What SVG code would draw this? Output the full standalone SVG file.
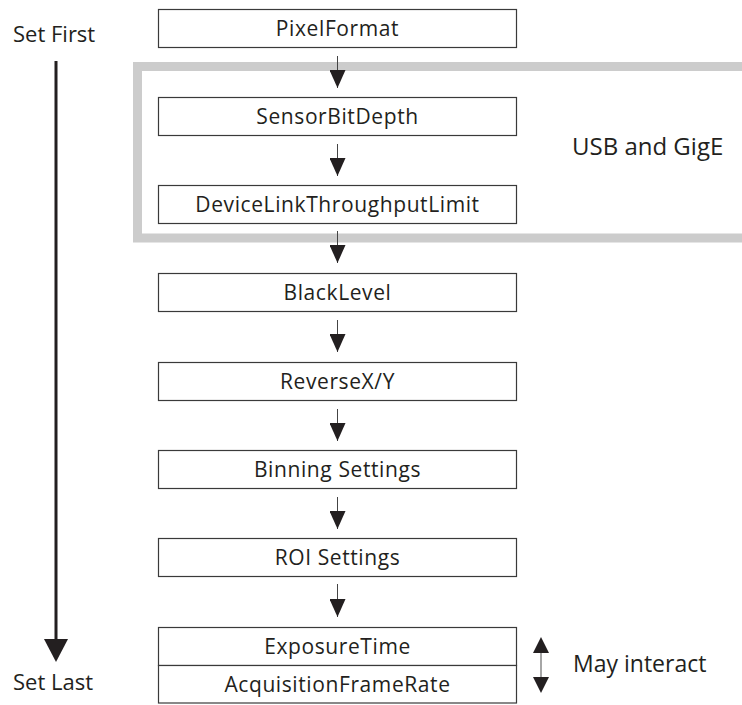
<svg xmlns="http://www.w3.org/2000/svg" width="742" height="705" viewBox="0 0 742 705">
<defs>
<style>
.box{fill:#fff;stroke:#3a3a3a;stroke-width:1.2}
.t{font-family:"Open Sans","Noto Sans",sans-serif;font-size:21px;fill:#231f20;text-anchor:middle;letter-spacing:0.6px}
.lbl{font-family:"Open Sans","Noto Sans",sans-serif;fill:#231f20}
.con{stroke:#444;stroke-width:1;fill:none}
.head{fill:#231f20}
</style>
<marker id="ah" markerUnits="userSpaceOnUse" viewBox="0 0 18 16" markerWidth="18" markerHeight="16" refX="18" refY="8" orient="auto">
<path d="M0,0 L18,8 L0,16 z" fill="#231f20"/>
</marker>
</defs>
<rect width="742" height="705" fill="#fff"/>
<g id="usb-gige-frame">
<path d="M742,66.5 H137.5 V238 H742" fill="none" stroke="#cccccc" stroke-width="9"/>
<text class="lbl" x="572" y="155" font-size="24">USB and GigE</text>
</g>
<g id="connectors">
<line class="con" x1="337.5" y1="56" x2="337.5" y2="88" marker-end="url(#ah)"/>
<line class="con" x1="337.5" y1="144" x2="337.5" y2="176" marker-end="url(#ah)"/>
<line class="con" x1="337.5" y1="231" x2="337.5" y2="263" marker-end="url(#ah)"/>
<line class="con" x1="337.5" y1="320" x2="337.5" y2="352" marker-end="url(#ah)"/>
<line class="con" x1="337.5" y1="409" x2="337.5" y2="441" marker-end="url(#ah)"/>
<line class="con" x1="337.5" y1="497" x2="337.5" y2="529" marker-end="url(#ah)"/>
<line class="con" x1="337.5" y1="584" x2="337.5" y2="617" marker-end="url(#ah)"/>
</g>
<g id="pixelformat"><rect class="box" x="158.5" y="9.5" width="358" height="38"/><text class="t" x="337.5" y="36">PixelFormat</text></g>
<g id="sensorbitdepth"><rect class="box" x="158.5" y="97.5" width="358" height="38"/><text class="t" x="337.5" y="124">SensorBitDepth</text></g>
<g id="devicelinkthroughputlimit"><rect class="box" x="158.5" y="185.5" width="358" height="38"/><text class="t" x="337.5" y="212">DeviceLinkThroughputLimit</text></g>
<g id="blacklevel"><rect class="box" x="158.5" y="273.5" width="358" height="38"/><text class="t" x="337.5" y="300">BlackLevel</text></g>
<g id="reversexy"><rect class="box" x="158.5" y="362.5" width="358" height="38"/><text class="t" x="337.5" y="389">ReverseX/Y</text></g>
<g id="binning"><rect class="box" x="158.5" y="450.5" width="358" height="38"/><text class="t" x="337.5" y="477">Binning Settings</text></g>
<g id="roi"><rect class="box" x="158.5" y="538.5" width="358" height="38"/><text class="t" x="337.5" y="565">ROI Settings</text></g>
<g id="exposuretime"><rect class="box" x="158.5" y="627.5" width="358" height="38"/><text class="t" x="337.5" y="654">ExposureTime</text></g>
<g id="acquisitionframerate"><rect class="box" x="158.5" y="665.5" width="358" height="37.5"/><text class="t" x="337.5" y="692">AcquisitionFrameRate</text></g>
<g id="order-arrow">
<text class="lbl" x="13" y="42" font-size="22">Set First</text>
<line x1="56" y1="61" x2="56" y2="641" stroke="#231f20" stroke-width="3"/>
<polygon class="head" points="44,639 68,639 56,662"/>
<text class="lbl" x="13" y="690" font-size="22">Set Last</text>
</g>
<g id="may-interact">
<line x1="541" y1="650" x2="541" y2="680" stroke="#888" stroke-width="1.5"/>
<polygon class="head" points="533,653 549,653 541,637"/>
<polygon class="head" points="533,677 549,677 541,693"/>
<text class="lbl" x="573" y="672" font-size="23">May interact</text>
</g>
</svg>
